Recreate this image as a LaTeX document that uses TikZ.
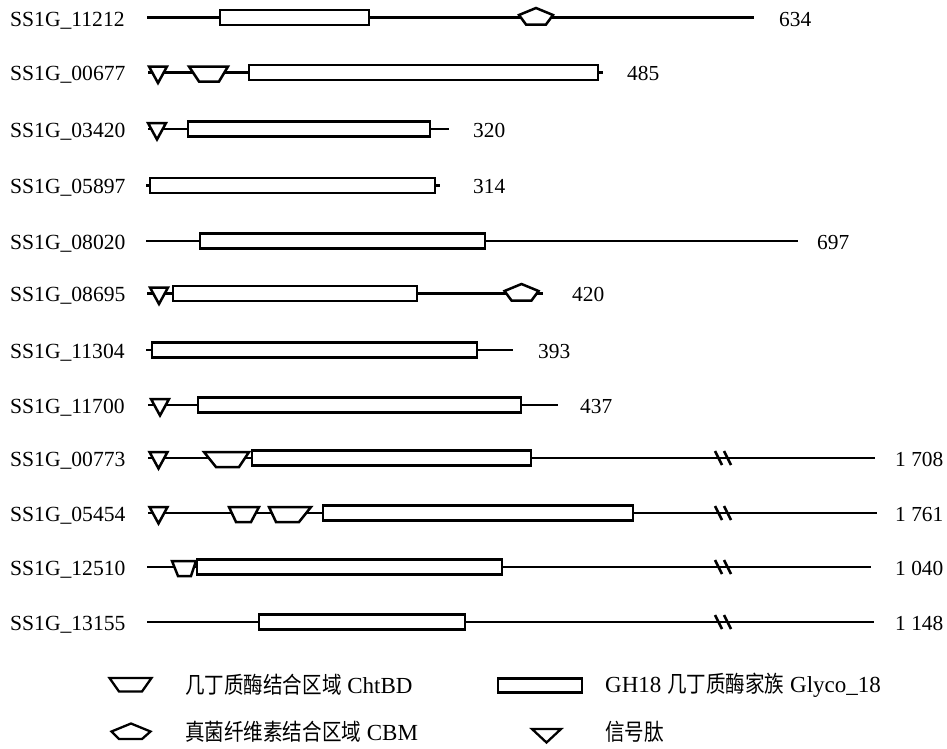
\documentclass[tikz,border=0pt]{standalone}
\usepackage{fontspec}
\usepackage{graphicx}
\setmainfont{Liberation Serif}
\newfontfamily\cjk{Noto Sans CJK SC}
\newcommand\cj[1]{\scalebox{0.85}[1]{\cjk #1}}
\tikzset{
  axisln/.style={line width=2.5pt},
  thinln/.style={line width=1.8pt},
  dom/.style={line width=2.5pt, fill=white, draw=black, line join=miter},
  legdom/.style={line width=2.3pt, fill=white, draw=black, line join=miter},
  idlab/.style={anchor=base west, inner sep=0pt, font=\fontsize{21.6}{26}\selectfont},
  numlab/.style={anchor=base west, inner sep=0pt, font=\fontsize{21.4}{26}\selectfont},
  leglab/.style={anchor=west, inner sep=0pt, font=\fontsize{23}{27}\selectfont},
}
\newcommand\mySig[2]{\draw[dom] ({#1-9},{#2-6}) -- ({#1+9},{#2-6}) -- (#1,{#2+10.5}) -- cycle;}
\newcommand\myTrap[5]{\draw[dom] (#1,{#5-6}) -- (#2,{#5-6}) -- (#4,{#5+9}) -- (#3,{#5+9}) -- cycle;}
\newcommand\myBox[3]{\draw[dom] (#1,{#3-7.5}) rectangle (#2,{#3+7.5});}
\newcommand\myPent[2]{\draw[dom] (#1,{#2-9.5}) -- ({#1+17},{#2-2.5}) -- ({#1+10},{#2+7}) -- ({#1-10},{#2+7}) -- ({#1-17},{#2-2.5}) -- cycle;}
\newcommand\myBreak[1]{\draw[axisln] (715,{#1-7}) -- (722,{#1+7}) (724,{#1-7}) -- (731,{#1+7});}
\begin{document}
\begin{tikzpicture}[x=1pt,y=-1pt]
\useasboundingbox[fill=white] (0,0) rectangle (947,748);

% row 1
\draw[axisln] (147,17.5) -- (754,17.5);
\myBox{220}{369}{17.5}
\myPent{536}{17.5}
\node[idlab] (id1) at (10,26) {SS1G\_11212};
\node[numlab] (n1) at (779,26) {634};

% row 2
\draw[axisln] (148,72.5) -- (603,72.5);
\mySig{158}{72.5}
\myTrap{189}{228}{199}{219}{72.5}
\myBox{249}{598}{72.5}
\node[idlab] (id2) at (10,80.5) {SS1G\_00677};
\node[numlab] (n2) at (627,80.5) {485};

% row 3
\draw[axisln] (148,129) -- (449,129);
\mySig{157}{129}
\myBox{188}{430}{129}
\node[idlab] (id3) at (10,137) {SS1G\_03420};
\node[numlab] (n3) at (473,137) {320};

% row 4
\draw[axisln] (146,185.5) -- (440,185.5);
\myBox{150}{435}{185.5}
\node[idlab] (id4) at (10,193.5) {SS1G\_05897};
\node[numlab] (n4) at (473,193.5) {314};

% row 5
\draw[axisln] (146,241) -- (798,241);
\myBox{200}{485}{241}
\node[idlab] (id5) at (10,249) {SS1G\_08020};
\node[numlab] (n5) at (817,249) {697};

% row 6
\draw[axisln] (147,293.5) -- (543,293.5);
\mySig{159}{293.5}
\myBox{173}{417}{293.5}
\myPent{521.5}{293.5}
\node[idlab] (id6) at (10,301.5) {SS1G\_08695};
\node[numlab] (n6) at (572,301.5) {420};

% row 7
\draw[axisln] (146,350) -- (513,350);
\myBox{152}{477}{350}
\node[idlab] (id7) at (10,358) {SS1G\_11304};
\node[numlab] (n7) at (538,358) {393};

% row 8
\draw[axisln] (148,405) -- (558,405);
\mySig{160}{405}
\myBox{198}{521}{405}
\node[idlab] (id8) at (10,413) {SS1G\_11700};
\node[numlab] (n8) at (580,413) {437};

% row 9
\draw[axisln] (148,458) -- (721,458);
\draw[thinln] (721,458) -- (875,458);
\mySig{158.5}{458}
\myTrap{204}{249}{216}{239}{458}
\myBox{252}{531}{458}
\myBreak{458}
\node[idlab] (id9) at (10,466) {SS1G\_00773};
\node[numlab] (n9) at (895,466) {1 708};

% row 10
\draw[axisln] (148,513) -- (721,513);
\draw[thinln] (721,513) -- (877,513);
\mySig{158.5}{513}
\myTrap{229}{259}{236}{251}{513}
\myTrap{269}{311}{276}{299}{513}
\myBox{323}{633}{513}
\myBreak{513}
\node[idlab] (id10) at (10,521) {SS1G\_05454};
\node[numlab] (n10) at (895,521) {1 761};

% row 11
\draw[axisln] (147,567) -- (721,567);
\draw[thinln] (721,567) -- (871,567);
\myTrap{172}{196}{178}{191}{567}
\myBox{197}{502}{567}
\myBreak{567}
\node[idlab] (id11) at (10,575) {SS1G\_12510};
\node[numlab] (n11) at (895,575) {1 040};

% row 12
\draw[axisln] (147,622) -- (721,622);
\draw[thinln] (721,622) -- (874,622);
\myBox{259}{465}{622}
\myBreak{622}
\node[idlab] (id12) at (10,630) {SS1G\_13155};
\node[numlab] (n12) at (895,630) {1 148};

% legend
\draw[legdom] (109.5,678) -- (151.5,678) -- (142,691.5) -- (119,691.5) -- cycle;
\node[leglab] (l1) at (185,685) {\cj{几丁质酶结合区域} ChtBD};
\draw[legdom] (498,678.5) rectangle (582,692.5);
\node[leglab] (l2) at (605,685) {GH18 \cj{几丁质酶家族} Glyco\_18};
\draw[legdom] (131,723.5) -- (150.5,731.5) -- (142,739) -- (119,739) -- (111.5,731.5) -- cycle;
\node[leglab] (l3) at (185,732) {\cj{真菌纤维素结合区域} CBM};
\draw[legdom] (532,729) -- (561,729) -- (546.5,742.5) -- cycle;
\node[leglab] (l4) at (605,732) {\cj{信号肽}};
\end{tikzpicture}
\end{document}
